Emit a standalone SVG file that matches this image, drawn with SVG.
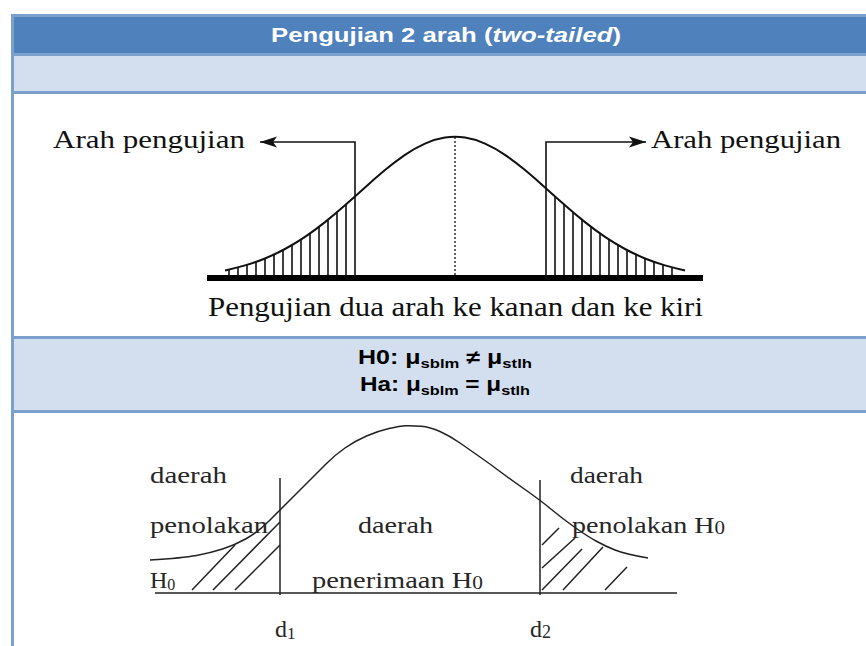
<svg xmlns="http://www.w3.org/2000/svg" width="866" height="646" viewBox="0 0 866 646">
  <style>
    .hdr { fill: #4f81bd; }
    .band { fill: #d3dfee; }
    .bdr { fill: #7ba0cd; }
    .title { font-family: "Liberation Sans", Arial, sans-serif; font-weight: bold; font-size: 20.5px; fill: #ffffff; }
    .hyp { font-family: "Liberation Sans", Arial, sans-serif; font-weight: bold; font-size: 19.5px; fill: #000000; }
    .sub { font-size: 13px; }
    .serif { font-family: "Liberation Serif", "Times New Roman", serif; fill: #111111; }
    .top { font-size: 26px; }
    .cap { font-size: 28px; }
    .bot { font-size: 24px; fill: #262626; }
    .curve { fill: none; stroke: #111; stroke-width: 2; }
    .thin { fill: none; stroke: #111; stroke-width: 1.6; }
    .hatch { fill: none; stroke: #111; stroke-width: 1.6; }
    .bline { fill: none; stroke: #222; stroke-width: 1.5; }
  </style>
  <defs>
    <marker id="ah" viewBox="0 -6 18 12" markerWidth="18" markerHeight="12" refX="17" refY="0" orient="auto" markerUnits="userSpaceOnUse">
      <path d="M0,-5.5 L17,0 L0,5.5 L4,0 Z" fill="#111"/>
    </marker>
  </defs>

  <rect width="866" height="646" fill="#ffffff"/>

  <!-- table -->
  <g id="table">
    <rect class="hdr" x="14" y="17" width="852" height="36"/>
    <rect class="band" x="14" y="56" width="852" height="35"/>
    <rect class="band" x="14" y="339" width="852" height="71"/>
    <rect class="bdr" x="11" y="14" width="3" height="632"/>
    <rect class="bdr" x="11" y="14" width="855" height="3"/>
    <rect class="bdr" x="11" y="53" width="855" height="3"/>
    <rect class="bdr" x="11" y="91" width="855" height="3"/>
    <rect class="bdr" x="11" y="336" width="855" height="3"/>
    <rect class="bdr" x="11" y="410" width="855" height="3"/>
  </g>

  <g id="title">
    <text class="title" x="446" y="42" text-anchor="middle" textLength="350" lengthAdjust="spacingAndGlyphs">Pengujian 2 arah (<tspan font-style="italic">two-tailed</tspan>)</text>
  </g>

  <g id="hypotheses">
    <text class="hyp" x="445" y="364" text-anchor="middle" textLength="174" lengthAdjust="spacingAndGlyphs">H0: μ<tspan class="sub" dy="4">sblm</tspan><tspan dy="-4"> ≠ μ</tspan><tspan class="sub" dy="4">stlh</tspan></text>
    <text class="hyp" x="445" y="391" text-anchor="middle" textLength="170" lengthAdjust="spacingAndGlyphs">Ha: μ<tspan class="sub" dy="4">sblm</tspan><tspan dy="-4"> = μ</tspan><tspan class="sub" dy="4">stlh</tspan></text>
  </g>

  <!-- top figure: two-tailed test -->
  <g id="top-curve">
    <path class="curve" d="M225,270.4 Q235,268.3 245,265.4 Q255,262.5 265,258.45 Q275,254.4 285,249 Q295,243.6 305,236.85 Q315,230.1 325,222.1 Q335,214.1 345,205.25 Q355,196.4 365,187.4 Q375,178.4 385,170.05 Q395,161.7 405,154.85 Q415,148 425,143.55 Q435,139.1 445,137.55 Q455,136 465,137.55 Q475,139.1 485,143.55 Q495,148 505,154.85 Q515,161.7 525,170.05 Q535,178.4 545,187.4 Q555,196.4 565,205.25 Q575,214.1 585,222.1 Q595,230.1 605,236.85 Q615,243.6 625,249 Q635,254.4 645,258.45 Q655,262.5 665,265.4 Q675,268.3 685,270.4"/>
    <line x1="455" y1="137" x2="455" y2="275" stroke="#111" stroke-width="1.3" stroke-dasharray="2,2"/>
    <path class="hatch" d="M346,204.5V276 M337,212.3V276 M328,219.9V276 M319,227V276 M310,233.7V276 M301,239.8V276 M292,245.4V276 M283,250.4V276 M274,254.9V276 M265,258.8V276 M256,262.2V276 M247,265.1V276 M238,267.5V276 M229,269.6V276"/>
    <path class="hatch" d="M555,196.4V276 M564,204.5V276 M573,212.3V276 M582,219.9V276 M591,227V276 M600,233.7V276 M609,239.8V276 M618,245.4V276 M627,250.4V276 M636,254.9V276 M645,258.8V276 M654,262.2V276 M663,265.1V276 M672,267.5V276"/>
    <line x1="207" y1="278" x2="703" y2="278" stroke="#000" stroke-width="6"/>
  </g>

  <g id="connectors">
    <path class="thin" d="M355,278 V142 H260" marker-end="url(#ah)"/>
    <path class="thin" d="M546,278 V142 H646" marker-end="url(#ah)"/>
  </g>

  <g id="top-labels">
    <text class="serif top" x="53" y="148" textLength="192" lengthAdjust="spacingAndGlyphs">Arah pengujian</text>
    <text class="serif top" x="651" y="148" textLength="190" lengthAdjust="spacingAndGlyphs">Arah pengujian</text>
    <text class="serif cap" x="208" y="316" textLength="495" lengthAdjust="spacingAndGlyphs">Pengujian dua arah ke kanan dan ke kiri</text>
  </g>

  <!-- bottom figure: rejection / acceptance regions -->
  <g id="bottom-curve">
    <line class="bline" x1="155" y1="593" x2="677" y2="593"/>
    <line class="bline" x1="280" y1="478" x2="280" y2="595"/>
    <line class="bline" x1="540" y1="480" x2="540" y2="595"/>
    <path class="bline" d="M150,560 Q183,558 196.5,555.5 Q210,553 222.5,549 Q235,545 246.5,538.5 Q258,532 269,521 Q280,510 290,500 Q300,490 309,481 Q318,472 326.5,463.5 Q335,455 345,448 Q355,441 366.5,436 Q378,431 389,428.5 Q400,426 406,425.75 Q412,425.5 421,426.25 Q430,427 440,431.5 Q450,436 460,443 Q470,450 480,457 Q490,464 500,471.5 Q510,479 525,489.5 Q540,500 551.5,509.5 Q563,519 575,527.5 Q587,536 596,541 Q605,546 615,550 Q625,554 648,558"/>
    <path class="bline" d="M192,590 L235,545 M213,590 L280,522 M235,590 L280,545"/>
    <path class="bline" d="M542,545 L559,528 M542,568 L575,538 M542,590 L582,549 M563,590 L603,547 M605,590 L627,567"/>
  </g>

  <g id="bottom-labels">
    <text class="serif bot" x="150" y="483" textLength="77" lengthAdjust="spacingAndGlyphs">daerah</text>
    <text class="serif bot" x="150" y="533" textLength="118" lengthAdjust="spacingAndGlyphs">penolakan</text>
    <text class="serif bot" x="150" y="588">H<tspan font-size="16" dy="2">0</tspan></text>
    <text class="serif bot" x="358" y="533" textLength="75" lengthAdjust="spacingAndGlyphs">daerah</text>
    <text class="serif bot" x="312" y="588" textLength="171" lengthAdjust="spacingAndGlyphs">penerimaan H<tspan font-size="18" dy="1">0</tspan></text>
    <text class="serif bot" x="570" y="483" textLength="73" lengthAdjust="spacingAndGlyphs">daerah</text>
    <text class="serif bot" x="572" y="533" textLength="153" lengthAdjust="spacingAndGlyphs">penolakan H<tspan font-size="18" dy="1">0</tspan></text>
    <text class="serif bot" x="275" y="637" font-size="26">d<tspan font-size="17" dy="2">1</tspan></text>
    <text class="serif bot" x="530" y="637" font-size="26">d<tspan font-size="18" dy="1">2</tspan></text>
  </g>
</svg>
